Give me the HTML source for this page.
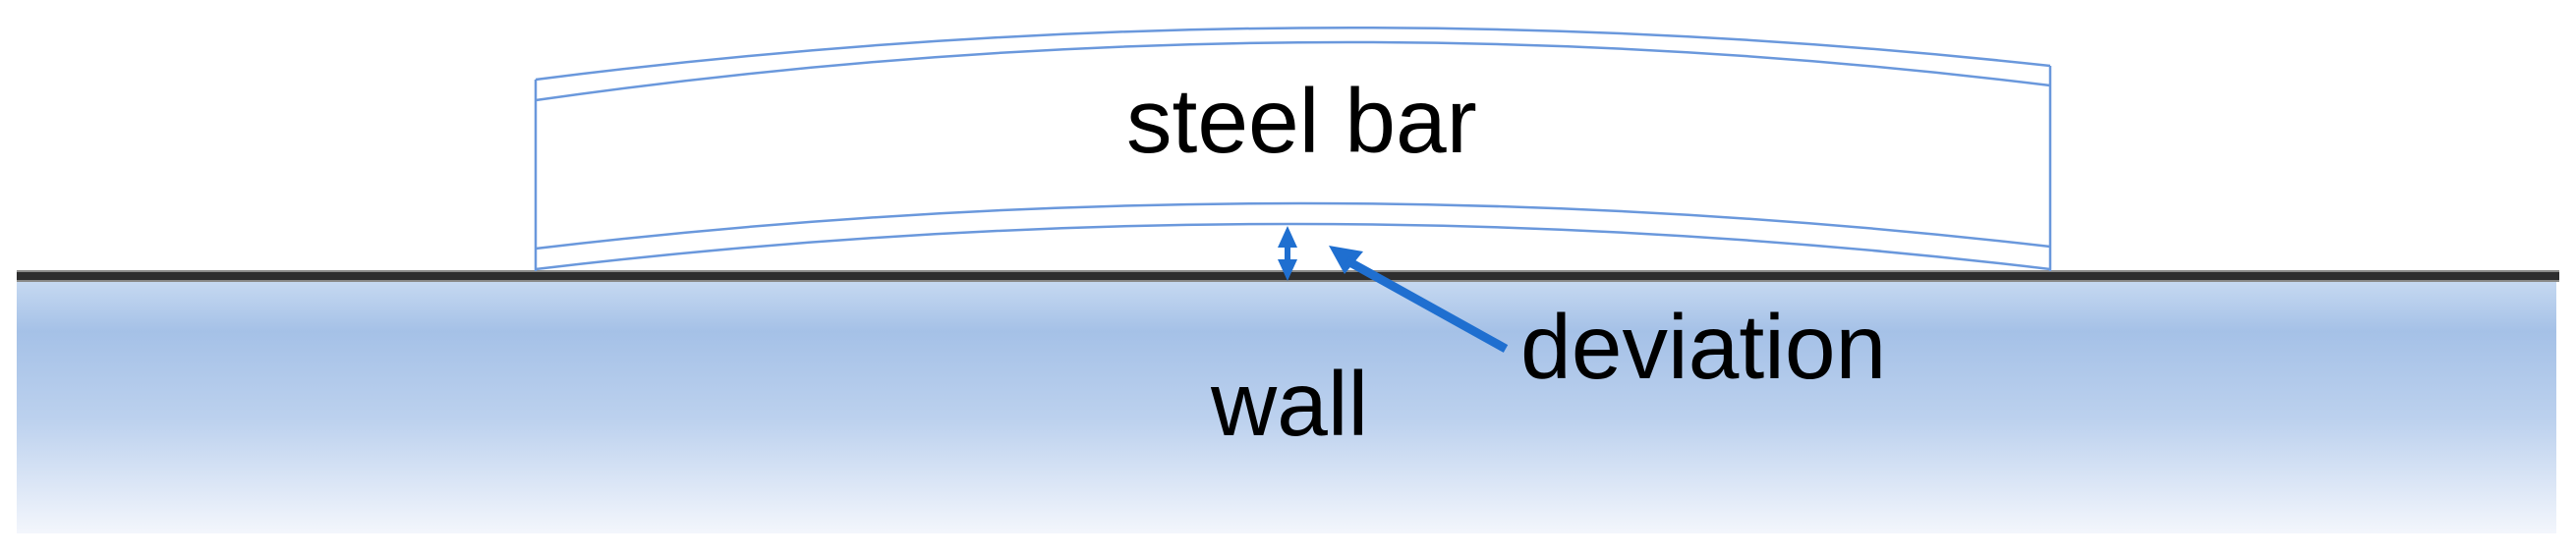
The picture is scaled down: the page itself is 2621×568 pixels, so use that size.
<!DOCTYPE html>
<html><head><meta charset="utf-8"><style>
html,body{margin:0;padding:0;background:#fff;width:2621px;height:568px;overflow:hidden}
svg{display:block}
text{font-family:"Liberation Sans",sans-serif;fill:#000}
</style></head><body>
<svg width="2621" height="568" viewBox="0 0 2621 568" xmlns="http://www.w3.org/2000/svg">
<defs>
<linearGradient id="w" x1="0" y1="0" x2="0" y2="1">
<stop offset="0" stop-color="#c6d9f1"/>
<stop offset="0.2" stop-color="#a5c1e7"/>
<stop offset="0.55" stop-color="#bcd1ee"/>
<stop offset="1" stop-color="#f3f6fc"/>
</linearGradient>
</defs>
<rect x="17" y="286" width="2584" height="257" fill="url(#w)"/>
<rect x="17" y="275" width="2587" height="12" fill="#8a8a88"/>
<rect x="17" y="277" width="2587" height="8" fill="#2e2e2e"/>
<g fill="none" stroke="#6a98dc" stroke-width="2.5">
<path d="M545 81 Q1315 -17 2086 67"/>
<path d="M545 102 Q1315 -8 2086 87"/>
<path d="M545 253 Q1315 162 2086 251"/>
<path d="M545 274 Q1315 182 2086 274"/>
<line x1="545" y1="81" x2="545" y2="276"/>
<line x1="2086" y1="67" x2="2086" y2="276"/>
</g>
<g fill="#1f6fd0" stroke="none">
<rect x="1307" y="244" width="6" height="30"/>
<polygon points="1310,230 1300,252 1320,252"/>
<polygon points="1310,286 1300,264 1320,264"/>
<polygon points="1352,250 1387,256 1368,279"/>
<line x1="1370" y1="265" x2="1532" y2="355" stroke="#1f6fd0" stroke-width="9"/>
</g>
<text x="1146" y="155" font-size="93">steel bar</text>
<text x="1547" y="385" font-size="93">deviation</text>
<text x="1232" y="443" font-size="93">wall</text>
</svg>
</body></html>
